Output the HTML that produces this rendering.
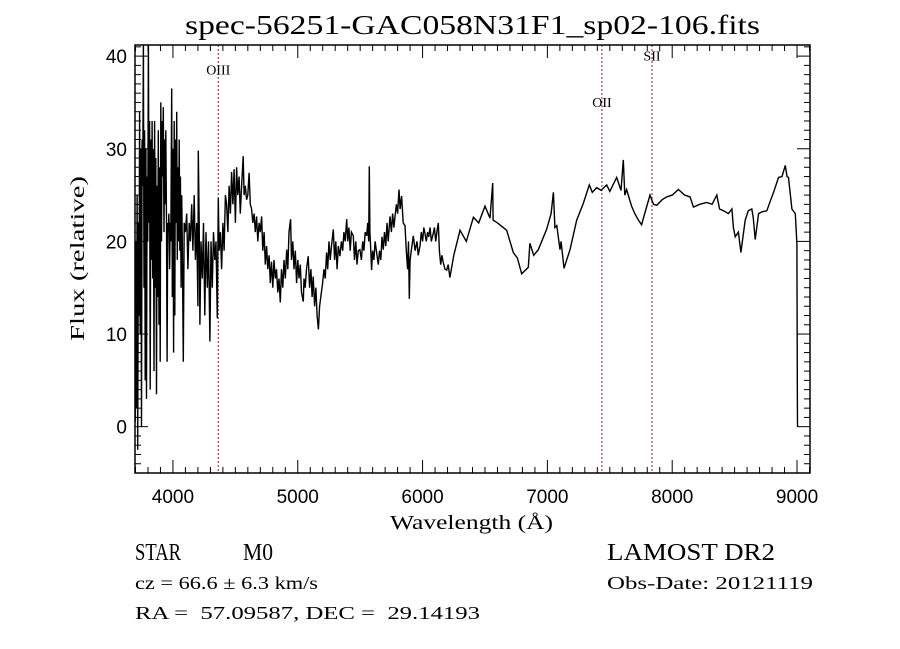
<!DOCTYPE html>
<html><head><meta charset="utf-8"><style>
html,body{margin:0;padding:0;background:#fff;}
svg{display:block;}
.sans{font-family:"Liberation Sans",sans-serif;}
.serif{font-family:"Liberation Serif",serif;}
text{white-space:pre;}
</style></head><body>
<svg id="chart" width="900" height="649" viewBox="0 0 900 649" xmlns="http://www.w3.org/2000/svg">
<rect width="900" height="649" fill="#fff"/>
<text class="serif" x="185" y="34" font-size="27" textLength="575" lengthAdjust="spacingAndGlyphs">spec-56251-GAC058N31F1_sp02-106.fits</text>
<g id="plot"></g>
<text class="serif" x="390" y="529" font-size="20" textLength="163" lengthAdjust="spacingAndGlyphs">Wavelength (Å)</text>
<text class="serif" font-size="20" transform="translate(84,341) rotate(-90)" textLength="165" lengthAdjust="spacingAndGlyphs">Flux (relative)</text>
<text class="serif" x="135" y="560" font-size="24" textLength="46" lengthAdjust="spacingAndGlyphs">STAR</text>
<text class="serif" x="243" y="560" font-size="24" textLength="30" lengthAdjust="spacingAndGlyphs">M0</text>
<text class="serif" x="607" y="560" font-size="24" textLength="168" lengthAdjust="spacingAndGlyphs">LAMOST DR2</text>
<text class="serif" x="135" y="589" font-size="18" textLength="183" lengthAdjust="spacingAndGlyphs">cz = 66.6 ± 6.3 km/s</text>
<text class="serif" x="607" y="589" font-size="18" textLength="206" lengthAdjust="spacingAndGlyphs">Obs-Date: 20121119</text>
<text class="serif" x="135" y="619" font-size="18" textLength="345" lengthAdjust="spacingAndGlyphs">RA =  57.09587, DEC =  29.14193</text>
</svg>
<script>
const wavelengths = [3698,3703,3708,3713,3718,3723,3728,3733,3738,3743,3748,3753,3758,3763,3768,3773,3778,3783,3788,3793,3798,3803,3808,3813,3818,3823,3828,3833,3838,3843,3848,3853,3858,3863,3868,3873,3878,3883,3888,3893,3898,3903,3908,3913,3918,3923,3928,3933,3938,3943,3948,3953,3958,3963,3968,3973,3978,3983,3990,3995,4000,4005,4010,4015,4020,4025,4030,4035,4040,4045,4050,4055,4060,4065,4070,4075,4083,4090,4100,4110,4120,4130,4140,4150,4160,4170,4180,4190,4200,4203,4210,4216,4225,4235,4245,4255,4265,4275,4285,4296,4305,4315,4325,4335,4345,4355,4363,4370,4380,
4390,4400,4410,4420,4430,4440,4450,4460,4470,4480,4490,4500,4510,4520,4530,4540,4550,4563,4570,4580,4590,4600,4610,4620,4630,4640,4650,4660,4670,4680,4690,4700,4710,4720,4730,4740,4750,4760,4770,4780,4790,4800,4810,4820,4830,4840,4850,4860,4870,4880,4890,4900,4911,4920,4930,4943,4950,4960,4970,4980,4991,5000,5010,5020,5030,5044,5050,5060,5070,5084,5095,5105,5115,5124,5135,5145,5155,5165,5175,5185,5199,5210,5220,5231,5240,5250,5260,5270,5285,5295,5305,5315,5325,5338,5350,5360,5370,5380,5392,5400,5410,5420,5430,5445,5455,5465,5475,5485,5498,5510,5520,5530,5540,5552,5560,5568,5573,5578,5585,5592,5600,5610,5620,5632,5645,5655,5665,5675,5685,5695,5705,5715,5725,5739,5750,5760,5770,5779,5790,5800,5811,5820,5832,5845,5859,5870,5880,5887,5894,5900,5910,5926,5940,5955,5965,5979,5990,6000,6010,6019,6030,6040,6050,6060,6070,6086,6095,6105,6115,6126,6135,6145,6155,6166,6180,6193,6205,
6219,6250,6300,6350,6407,6450,6500,6540,6562,6565,6600,6674,6727,6760,6794,6847,6860,6890,6927,6994,7030,7048,7060,7075,7101,7110,7133,7181,7235,7288,7336,7360,7395,7430,7475,7500,7555,7590,7608,7620,7635,7675,7700,7729,7755,7790,7822,7850,7876,7920,7956,8000,8050,8100,8143,8170,8220,8277,8320,8357,8380,8411,8450,8478,8490,8505,8530,8550,8585,8610,8638,8650,8665,8692,8720,8758,8790,8812,8852,8880,8906,8920,8932,8959,8986,8999,9002,9004];
const flux = [0.5,20,2,25,-2.5,22,12,34,10,30,0,31,26,41.5,15,32,5,30,3,27,20,41.5,22,33,4,31,18,33,16,30,6,33,15,29,3.5,26,14,32,11,28,7,35,20,33,27,34.5,21,31,24,32,22,7,22,21,23,17,22,20,36.5,14,30,8,33,12,31,22,34,18,28,20,31,19,27,15,25,20,7,22,21,23,17,22,20,24,19,25,18,22,13,29.8,22,11,20,16,22,12,21,15,20,9.2,20,15,21,18,20,11.7,24.7,19,21,
17,22,19,25,24,21,26,23,27.5,24,27.8,22,28,25,27,23,26,29.2,25,26,24.5,25,27.4,24,23.5,22,23,21,22.7,20,22,21,22.7,19,21,17.5,19.5,17,18.5,15.5,17.8,15,18,16,17,14.5,16,13.4,17,15,18,16,19.1,17,21,22.4,18,20,17,19,15.5,18,16,17.5,14.5,13.5,16,15,17,18.4,15,17,14,16.2,13,15,12,10.5,13,14,15.5,17,16,18.8,17,20,18,19.5,21.3,18,20,17,19.5,18.4,20,19,21,20,22.4,20,21.5,19,21,20.6,18,20,17.5,19,19.1,18,20,19,21,20.6,22,20,28.1,21,19,16.9,19,18,20,18.8,17.5,19,18,20.5,19.1,21,19.5,22,20,22.7,21,23,21.5,22.7,24,23,25.6,23.5,24.9,22,21.7,19,17,20,13.8,18,19,20.6,19,20,18.5,19.5,21,20,21.5,20.9,20,21,20.5,21.5,20,20.9,21.5,20,21,22,19,17.5,18.5,17.7,17,16.9,17.5,
16.1,18.5,21.2,20,22.6,22,23.8,22.5,26.3,22.3,22,21.2,18.8,18.2,16.5,17.2,19.8,18.5,19.1,21.3,23,25.3,21.5,21.7,19.1,20,17.1,19.1,22.3,24.1,26.1,25.3,25.8,25.5,26.1,25.4,26.9,25.5,28.8,25,25.6,23.8,23,22.3,21.8,23.5,25,24,23.9,24.5,24.8,25,25.6,25,24.8,23.7,24,24.2,24,25,23.5,23.3,23,23.5,21.5,20.5,21,18.8,22.3,23.3,23.5,22.5,20.2,23,23.2,23.3,24.5,25.3,26.9,27,28.2,27,26.9,23.5,23,19.8,5,0];
const xTicks = [4000,5000,6000,7000,8000,9000];
const yTicks = [0,10,20,30,40];
const lineNames = ["OIII","OII","SII"];
const lineWaves = [4363,7437,7838];
const lineLabelFlux = [38,34.5,39.5];

const NS = "http://www.w3.org/2000/svg";
const L = 135, R = 810, T = 45, B = 473;
const xMin = 3696, xMax = 9104, yMin = -5, yMax = 41.2;
function sx(w){ return L + (w - xMin) / (xMax - xMin) * (R - L); }
function sy(v){ return B - (v - yMin) / (yMax - yMin) * (B - T); }
const plot = document.getElementById('plot');
function mk(tag, attrs, parent){ const e = document.createElementNS(NS, tag); for (const k in attrs) e.setAttribute(k, attrs[k]); (parent||plot).appendChild(e); return e; }

const defs = mk('defs', {});
const cp = mk('clipPath', {id:'clip'}, defs);
mk('rect', {x:L, y:T, width:R-L, height:B-T}, cp);

lineWaves.forEach((w, i) => {
  const ln = mk('line', {x1:sx(w), x2:sx(w), y1:T, y2:B, stroke:'#8b1a1a', 'stroke-width':1, 'stroke-dasharray':'2,2'});
  
  
  const t = mk('text', {x:sx(w), y:sy(lineLabelFlux[i]), 'text-anchor':'middle', 'font-size':14, class:'serif'});
  t.textContent = lineNames[i];
  
  
});

let d = '';
wavelengths.forEach((w, i) => { d += (i ? 'L' : 'M') + sx(w).toFixed(1) + ',' + sy(flux[i]).toFixed(1); });
const path = mk('path', {d:d, fill:'none', stroke:'#000', 'stroke-width':1.4, 'clip-path':'url(#clip)'});



const frame = mk('rect', {x:L, y:T, width:R-L, height:B-T, fill:'none', stroke:'#000', 'stroke-width':1.5});



for (let w = 3700; w <= 9100; w += 100) {
  const major = w % 1000 === 0;
  const len = major ? 13 : 6;
  mk('line', {x1:sx(w), x2:sx(w), y1:B, y2:B-len, stroke:'#000', 'stroke-width':1});
  mk('line', {x1:sx(w), x2:sx(w), y1:T, y2:T+len, stroke:'#000', 'stroke-width':1});
}
xTicks.forEach(w => {
  const t = mk('text', {x:sx(w), y:503, 'text-anchor':'middle', 'font-size':19, class:'sans'});
  t.textContent = w;
  
  
});
for (let v = -5; v <= 41; v += 1) {
  const major = v % 10 === 0;
  const len = major ? 13 : 6;
  mk('line', {x1:L, x2:L+len, y1:sy(v), y2:sy(v), stroke:'#000', 'stroke-width':1});
  mk('line', {x1:R, x2:R-len, y1:sy(v), y2:sy(v), stroke:'#000', 'stroke-width':1});
}
yTicks.forEach(v => {
  const t = mk('text', {x:127, y:sy(v)+7, 'text-anchor':'end', 'font-size':19, class:'sans'});
  t.textContent = v;
  
  
});
</script>
</body></html>
